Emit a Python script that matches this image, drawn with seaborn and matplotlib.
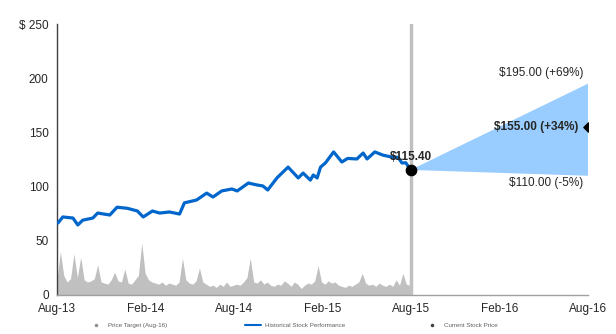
import matplotlib
matplotlib.use("Agg")
import matplotlib.pyplot as plt
from matplotlib.lines import Line2D
import seaborn as sns
import pandas as pd

# ---- data ----
price_dates = ["2013-08-03", "2013-08-13", "2013-09-03", "2013-09-13", "2013-09-23", "2013-10-14",
               "2013-10-24", "2013-11-18", "2013-12-03", "2013-12-24", "2014-01-14", "2014-01-26",
               "2014-02-14", "2014-03-01", "2014-03-21", "2014-04-11", "2014-04-21", "2014-05-16",
               "2014-06-06", "2014-06-19", "2014-07-07", "2014-07-28", "2014-08-08", "2014-08-31",
               "2014-09-18", "2014-09-30", "2014-10-10", "2014-10-29", "2014-11-21", "2014-12-12",
               "2014-12-22", "2015-01-06", "2015-01-12", "2015-01-20", "2015-01-27", "2015-02-06",
               "2015-02-23", "2015-03-12", "2015-03-24", "2015-04-12", "2015-04-25", "2015-05-03",
               "2015-05-19", "2015-06-05", "2015-06-26", "2015-07-06", "2015-07-14", "2015-07-22",
               "2015-08-01"]
price_values = [66.4, 72, 71, 64.6, 69, 71, 75.6, 73.8, 81, 80, 77.5, 72,
                77.5, 75.6, 76.6, 74.7, 85, 87.6, 94, 90.4, 96, 97.8, 96, 103.3,
                101.5, 100.6, 96.9, 108, 118, 108, 112.5, 106, 110.7, 108, 118, 121.8,
                132, 122.7, 126, 125.5, 131, 125.5, 132, 129, 127, 127, 121.8, 122, 115.4]

volume_start = "2013-08-01"
volume_values = [14, 40, 18, 12, 15, 38, 16, 35, 14, 12, 13, 15, 28, 12, 11, 10, 14, 21, 13, 12,
                 24, 11, 10, 14, 18, 48, 20, 14, 12, 11, 10, 12, 9, 11, 10, 9, 12, 34, 14, 11,
                 10, 13, 25, 12, 10, 8, 9, 7, 10, 8, 12, 8, 9, 10, 9, 12, 16, 34, 12, 11,
                 14, 10, 12, 9, 8, 10, 9, 13, 11, 8, 12, 10, 6, 9, 11, 10, 13, 27, 12, 10,
                 13, 11, 12, 9, 8, 7, 9, 8, 10, 12, 20, 11, 9, 10, 8, 11, 9, 8, 10, 8,
                 14, 9, 20, 10, 9]

current_date = "2015-08-01"
current_price = 115.40
target_date = "2016-08-01"
target_high = 195.00
target_mid = 155.00
target_low = 110.00

y_ticks = [0, 50, 100, 150, 200, 250]
y_tick_labels = ["0", "50", "100", "150", "200", "$ 250"]
x_tick_dates = ["2013-08-01", "2014-02-01", "2014-08-01", "2015-02-01", "2015-08-01", "2016-02-01", "2016-08-01"]
x_tick_labels = ["Aug-13", "Feb-14", "Aug-14", "Feb-15", "Aug-15", "Feb-16", "Aug-16"]

# ---- plot ----
sns.set_style("white")
plt.rcParams["font.family"] = ["Liberation Sans", "DejaVu Sans"]

fig = plt.figure(figsize=(6.16, 3.34), dpi=100)
ax = fig.add_axes([0.0925, 0.1168, 0.862, 0.8112])

price_df = pd.DataFrame({"date": pd.to_datetime(price_dates), "price": price_values})
vol_df = pd.DataFrame({"date": pd.date_range(volume_start, periods=len(volume_values), freq="7D"),
                       "volume": volume_values})

# volume area
ax.fill_between(vol_df["date"], 0, vol_df["volume"], color="#c0c0c0", lw=0, zorder=1)

# forecast cone
cd = pd.Timestamp(current_date)
td = pd.Timestamp(target_date)
ax.fill([cd, td, td], [current_price, target_high, target_low], color="#99ccff", lw=0, zorder=1)

# vertical line at current date
ax.axvline(cd, color="#c0c0c0", lw=2.5, zorder=2)

# price line
sns.lineplot(data=price_df, x="date", y="price", ax=ax, color="#0066cc", lw=2.3, zorder=3)

# markers
ax.scatter([cd], [current_price], s=55, color="black", zorder=5)
ax.scatter([td], [target_mid], s=22, marker="D", color="black", zorder=5)

# annotations
ax.text(cd, current_price + 12, f"${current_price:.2f}", ha="center", va="center",
        fontsize=8.5, fontweight="bold", zorder=6)
ax.text(td - pd.Timedelta(days=10), target_high + 10, f"${target_high:.2f} (+69%)",
        ha="right", va="center", fontsize=8.5)
ax.text(td - pd.Timedelta(days=20), target_mid, f"${target_mid:.2f} (+34%)",
        ha="right", va="center", fontsize=8.5, fontweight="bold")
ax.text(td - pd.Timedelta(days=10), target_low - 7, f"${target_low:.2f} (-5%)",
        ha="right", va="center", fontsize=8.5)

ax.set_xlim(pd.Timestamp(x_tick_dates[0]), pd.Timestamp(x_tick_dates[-1]))
ax.set_ylim(0, 250)
ax.set_yticks(y_ticks)
ax.set_yticklabels(y_tick_labels, fontsize=8.5)
ax.set_xticks(pd.to_datetime(x_tick_dates))
ax.set_xticklabels(x_tick_labels, fontsize=8.5)
ax.tick_params(axis="both", length=0, pad=6)
ax.set_xlabel("")
ax.set_ylabel("")

for s in ["top", "right"]:
    ax.spines[s].set_visible(False)
ax.spines["left"].set_color("#404040")
ax.spines["left"].set_linewidth(1.0)
ax.spines["bottom"].set_color("#a0a0a0")
ax.spines["bottom"].set_linewidth(1.0)

handles = [
    Line2D([], [], ls="none", marker="o", ms=1.5, color="#909090"),
    Line2D([], [], color="#0066cc", lw=1.5),
    Line2D([], [], ls="none", marker="o", ms=1.5, color="#404040"),
]
labels = ["Price Target (Aug-16)", "Historical Stock Performance", "Current Stock Price"]
leg = fig.legend(handles, labels, loc="center", bbox_to_anchor=(0.475, 0.025), ncol=3,
                 frameon=False, fontsize=4.5, columnspacing=12.5, handlelength=2.6, handletextpad=0.6)
for t in leg.get_texts():
    t.set_color("#606060")

fig.savefig("out.png", dpi=100)
